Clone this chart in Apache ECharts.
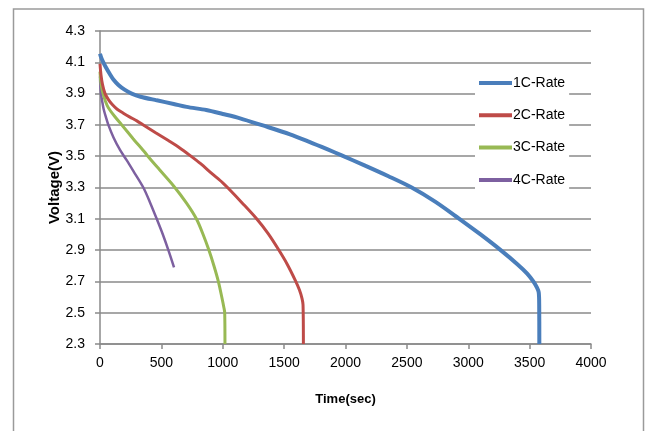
<!DOCTYPE html>
<html>
<head>
<meta charset="utf-8">
<script src="https://cdn.jsdelivr.net/npm/echarts@6/dist/echarts.min.js"></script>
<style>
html,body{margin:0;padding:0;background:#fff;}
#c{width:646px;height:431px;}
</style>
</head>
<body>
<div id="c"></div>
<script>
const seriesNames = ['1C-Rate', '2C-Rate', '3C-Rate', '4C-Rate'];
const xTicks = [0, 500, 1000, 1500, 2000, 2500, 3000, 3500, 4000];
const yTicks = [2.3, 2.5, 2.7, 2.9, 3.1, 3.3, 3.5, 3.7, 3.9, 4.1, 4.3];

const rate1C = [[0,4.155],[10,4.13],[27,4.10],[50,4.065],[80,4.025],[109,3.99],[150,3.955],[200,3.925],[258,3.90],[330,3.88],[462,3.857],[600,3.834],[706,3.815],[866,3.795],[1000,3.77],[1141,3.742],[1320,3.698],[1548,3.64],[1705,3.592],[1850,3.545],[1969,3.505],[2150,3.443],[2350,3.372],[2539,3.30],[2730,3.21],[2919,3.105],[3100,3.00],[3259,2.903],[3400,2.81],[3480,2.75],[3530,2.70],[3560,2.66],[3574,2.63],[3578,2.55],[3579,2.30]];
const rate2C = [[0,4.09],[8,4.02],[20,3.96],[41,3.90],[70,3.86],[100,3.83],[140,3.80],[190,3.775],[244,3.75],[300,3.726],[353,3.70],[450,3.652],[557,3.60],[650,3.553],[733,3.505],[820,3.452],[910,3.39],[1000,3.33],[1045,3.295],[1160,3.20],[1276,3.10],[1370,3.005],[1453,2.905],[1525,2.81],[1589,2.71],[1625,2.645],[1646,2.59],[1654,2.55],[1657,2.30]];
const rate3C = [[0,4.04],[6,3.98],[15,3.935],[27,3.895],[45,3.85],[68,3.81],[122,3.752],[177,3.70],[270,3.612],[365,3.525],[390,3.50],[480,3.418],[600,3.31],[705,3.20],[785,3.10],[840,3.00],[887,2.90],[928,2.80],[964,2.70],[992,2.60],[1010,2.53],[1016,2.50],[1018,2.30]];
const rate4C = [[0,4.01],[3,3.95],[8,3.90],[18,3.85],[30,3.80],[48,3.75],[68,3.70],[110,3.62],[163,3.54],[217,3.475],[272,3.405],[353,3.30],[410,3.20],[462,3.10],[512,3.00],[557,2.90],[603,2.79]];

const allData = [rate1C, rate2C, rate3C, rate4C];
const colors = ['#4A7EBB', '#BE4B48', '#98B954', '#7D60A0'];
const widths = [4, 3, 3, 2.5];

const chart = echarts.init(document.getElementById('c'), null, {renderer: 'canvas'});
const font = 'Liberation Sans';

chart.setOption({
  animation: false,
  backgroundColor: '#fff',
  graphic: [{
    type: 'rect', z: -1,
    shape: {x: 13.5, y: 9, width: 630, height: 440},
    style: {fill: 'none', stroke: '#9a9a9a', lineWidth: 1.5}
  }],
  grid: {left: 100, right: 55, top: 31, bottom: 87},
  legend: {
    orient: 'vertical',
    left: 475, top: 72,
    backgroundColor: '#fff',
    padding: [4, 4, 8, 4],
    itemWidth: 33, itemHeight: 4,
    itemGap: 18.3,
    icon: 'rect',
    textStyle: {fontFamily: font, fontSize: 14, color: '#000', padding: [0, 0, 0, -4]},
    data: seriesNames
  },
  xAxis: {
    type: 'value', min: 0, max: 4000, interval: 500,
    name: 'Time(sec)', nameLocation: 'middle', nameGap: 49,
    nameMoveOverlap: false,
    nameTextStyle: {fontFamily: font, fontSize: 13, fontWeight: 'bold', color: '#000'},
    axisLine: {show: true, lineStyle: {color: '#8a8a8a', width: 1.5}},
    axisTick: {show: true, length: 5, lineStyle: {color: '#8a8a8a', width: 1.5}},
    axisLabel: {fontFamily: font, fontSize: 14, color: '#000', margin: 12,
      formatter: v => xTicks.includes(v) ? String(v) : ''},
    splitLine: {show: false}
  },
  yAxis: {
    type: 'value', min: 2.3, max: 4.3, interval: 0.2,
    name: 'Voltage(V)', nameLocation: 'middle', nameGap: 38, nameRotate: 90,
    nameMoveOverlap: false,
    nameTextStyle: {fontFamily: font, fontSize: 15, fontWeight: 'bold', color: '#000'},
    axisLine: {show: true, lineStyle: {color: '#8a8a8a', width: 1.5}},
    axisTick: {show: true, length: 5, lineStyle: {color: '#8a8a8a', width: 1.5}},
    axisLabel: {fontFamily: font, fontSize: 14, color: '#000', margin: 15,
      formatter: v => {
        const t = yTicks.find(y => Math.abs(y - v) < 1e-6);
        return t !== undefined ? t.toFixed(1) : '';
      }},
    splitLine: {show: true, lineStyle: {color: '#8a8a8a', width: 1.5}}
  },
  series: allData.map((d, i) => ({
    name: seriesNames[i],
    type: 'line',
    data: d,
    showSymbol: false,
    symbol: 'none',
    smooth: 0.3,
    color: colors[i],
    lineStyle: {color: colors[i], width: widths[i]},
    z: 10 - i
  }))
});
</script>
</body>
</html>
